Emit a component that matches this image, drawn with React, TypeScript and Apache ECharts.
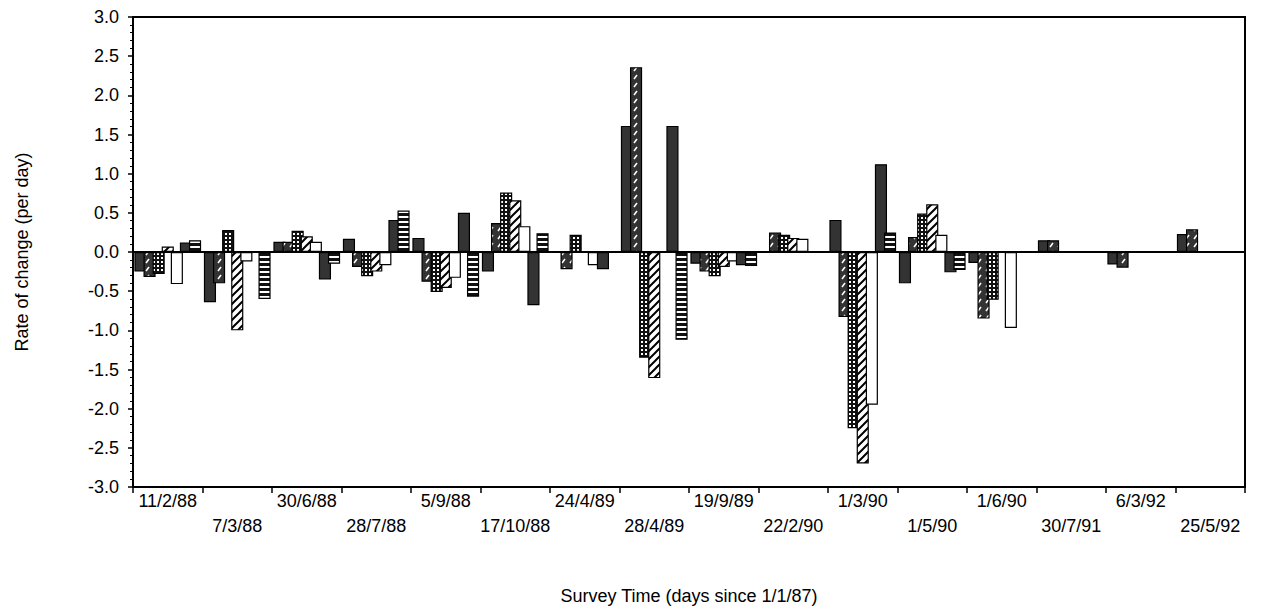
import React, { useEffect, useRef } from 'react';
import * as echarts from 'echarts';

const surveyDates = ['11/2/88', '7/3/88', '30/6/88', '28/7/88', '5/9/88', '17/10/88', '24/4/89', '28/4/89', '19/9/89', '22/2/90', '1/3/90', '1/5/90', '1/6/90', '30/7/91', '6/3/92', '25/5/92'];

const solidA = [-0.25, -0.64, 0.13, 0.17, 0.18, -0.25, 0, 1.61, -0.15, 0, 0.41, -0.40, -0.14, 0.15, -0.16, 0.23];
const darkHatch = [-0.32, -0.40, 0.13, -0.19, -0.38, 0.37, -0.22, 2.36, -0.25, 0.25, -0.83, 0.19, -0.85, 0.15, -0.20, 0.29];
const checker = [-0.28, 0.28, 0.27, -0.31, -0.51, 0.76, 0.22, -1.35, -0.31, 0.22, -2.25, 0.49, -0.61, 0, 0, 0];
const diagHatch = [0.07, -1.0, 0.20, -0.25, -0.46, 0.66, 0, -1.61, -0.19, 0.18, -2.70, 0.61, 0, 0, 0, 0];
const hollow = [-0.41, -0.12, 0.13, -0.17, -0.33, 0.33, -0.17, 0, -0.12, 0.17, -1.95, 0.22, -0.97, 0, 0, 0];
const solidB = [0.12, 0, -0.35, 0.41, 0.50, -0.68, -0.22, 1.61, -0.17, 0, 1.12, -0.26, 0, 0, 0, 0];
const hStripe = [0.15, -0.60, -0.15, 0.53, -0.57, 0.24, 0, -1.12, -0.18, 0, 0.25, -0.23, 0, 0, 0, 0];

const yTicks = { min: -3, max: 3, step: 0.5 };

function pattern(w: number, h: number, draw: (ctx: CanvasRenderingContext2D) => void) {
  const c = document.createElement('canvas');
  c.width = w;
  c.height = h;
  const ctx = c.getContext('2d') as CanvasRenderingContext2D;
  draw(ctx);
  return { image: c, repeat: 'repeat', imageWidth: w, imageHeight: h } as any;
}

export default function App() {
  const ref = useRef<HTMLDivElement>(null);
  useEffect(() => {
    if (!ref.current) return;
    const chart = echarts.init(ref.current, null, { renderer: 'svg' });

    const darkFill = '#333333';
    const pDarkHatch = pattern(8, 8, (ctx) => {
      ctx.fillStyle = darkFill;
      ctx.fillRect(0, 0, 8, 8);
      ctx.strokeStyle = '#ffffff';
      ctx.lineWidth = 1.5;
      ctx.beginPath();
      ctx.moveTo(2, 7);
      ctx.lineTo(5, 3);
      ctx.stroke();
    });
    const pChecker = pattern(4, 4, (ctx) => {
      ctx.fillStyle = '#111111';
      ctx.fillRect(0, 0, 4, 4);
      ctx.fillStyle = '#ffffff';
      ctx.fillRect(1, 1, 2, 2);
    });
    const pDiag = pattern(8, 8, (ctx) => {
      ctx.fillStyle = '#ffffff';
      ctx.fillRect(0, 0, 8, 8);
      ctx.strokeStyle = '#000000';
      ctx.lineWidth = 2;
      ctx.beginPath();
      ctx.moveTo(-1, 9);
      ctx.lineTo(9, -1);
      ctx.moveTo(-1, 1);
      ctx.lineTo(1, -1);
      ctx.moveTo(7, 9);
      ctx.lineTo(9, 7);
      ctx.stroke();
    });
    const pHStripe = pattern(2, 5, (ctx) => {
      ctx.fillStyle = '#111111';
      ctx.fillRect(0, 0, 2, 5);
      ctx.fillStyle = '#ffffff';
      ctx.fillRect(0, 1, 2, 2);
    });

    const fills = [darkFill, pDarkHatch, pChecker, pDiag, '#ffffff', darkFill, pHStripe];
    const datasets = [solidA, darkHatch, checker, diagHatch, hollow, solidB, hStripe];
    const names = ['Series 1', 'Series 2', 'Series 3', 'Series 4', 'Series 5', 'Series 6', 'Series 7'];

    const series: any[] = datasets.map((d, i) => ({
      type: 'bar',
      name: names[i],
      data: d,
      barGap: '-25%',
      barCategoryGap: '4%',
      itemStyle: { color: fills[i], borderColor: '#000', borderWidth: 1.2 },
      emphasis: { disabled: true },
    }));
    series[0].markLine = {
      silent: true,
      symbol: 'none',
      label: { show: false },
      lineStyle: { color: '#000', width: 2, type: 'solid' },
      data: [{ yAxis: 0 }],
    };

    const font = 'Liberation Sans, Arial, Helvetica, sans-serif';
    chart.setOption({
      animation: false,
      grid: { left: 133, right: 41, top: 17, bottom: 124, show: true, borderColor: '#000', borderWidth: 2, containLabel: false },
      xAxis: {
        type: 'category',
        data: surveyDates,
        name: 'Survey Time (days since 1/1/87)',
        nameLocation: 'middle',
        nameGap: 100,
        nameTextStyle: { fontFamily: font, fontSize: 18, color: '#000' },
        axisLine: { show: true, onZero: false, lineStyle: { color: '#000', width: 2 } },
        axisTick: { show: true, length: 6, lineStyle: { color: '#000', width: 1.5 } },
        axisLabel: {
          interval: 0,
          margin: 1,
          fontFamily: font,
          fontSize: 18,
          lineHeight: 25,
          color: '#000',
          formatter: (v: string, i: number) => (i % 2 === 1 ? '\n' + v : v),
        },
        splitLine: { show: false },
      },
      yAxis: {
        type: 'value',
        min: yTicks.min,
        max: yTicks.max,
        interval: yTicks.step,
        name: 'Rate of change (per day)',
        nameLocation: 'middle',
        nameGap: 102,
        nameTextStyle: { fontFamily: font, fontSize: 18, color: '#000' },
        axisLine: { show: true, lineStyle: { color: '#000', width: 2 } },
        axisTick: { show: true, length: 5, lineStyle: { color: '#000', width: 1.5 } },
        minorTick: { show: true, splitNumber: 5, length: 3, lineStyle: { color: '#000', width: 1 } },
        axisLabel: {
          margin: 14,
          fontFamily: font,
          fontSize: 18,
          color: '#000',
          formatter: (v: number) => v.toFixed(1),
        },
        splitLine: { show: false },
      },
      series,
    });
    return () => chart.dispose();
  }, []);
  return <div ref={ref} style={{ position: 'absolute', left: 0, top: 0, width: 1286, height: 611, background: '#fff' }} />;
}
